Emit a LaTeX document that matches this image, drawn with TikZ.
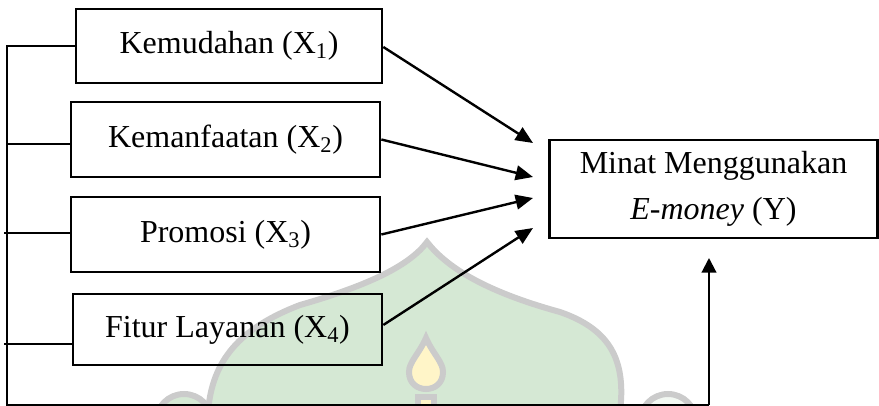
\documentclass[tikz,border=0pt]{standalone}
\usepackage{fontspec}
\setmainfont{Liberation Serif}
\usetikzlibrary{arrows.meta}
\definecolor{wmgreen}{HTML}{D5E8D4}
\definecolor{wmgrey}{HTML}{CBCBCB}
\definecolor{wmyellow}{HTML}{FFF5C8}
\tikzset{
  varbox/.style={draw, line width=2pt, inner sep=0pt, align=center,
    font=\fontsize{24}{34.5}\selectfont},
  link/.style={line width=1.1pt},
  infl/.style={line width=1.8pt, -{Triangle[length=13pt,width=11pt]}},
  wmark/.style={fill=wmgreen, draw=wmgrey, line width=4.5pt},
}
\begin{document}
\begin{tikzpicture}[x=0.75pt,y=-0.75pt]
\useasboundingbox (0,0) rectangle (879,406);

% faint background emblem
\begin{scope}
  \clip (0,0) rectangle (879,406);
  \path[wmark] (208,412) .. controls (212,360) and (240,328) .. (300,305)
    .. controls (370,285) and (410,265) .. (427,242)
    .. controls (445,265) and (480,290) .. (560,312)
    .. controls (612,330) and (626,362) .. (620,412) -- cycle;
  \path[wmark] (184,422) circle (28);
  \path[wmark, fill=white!70!wmgreen] (668,422) circle (28);
  \path[wmark, fill=wmyellow] (426,338) .. controls (433,354) and (443,362) .. (443,372)
    .. controls (443,383) and (435,389) .. (426,389)
    .. controls (417,389) and (409,383) .. (409,372)
    .. controls (409,362) and (419,354) .. (426,338) -- cycle;
  \path[wmark, fill=wmyellow] (418,397) rectangle (434,414);
\end{scope}

% variables
\node[varbox, minimum width=229.5pt, minimum height=55.5pt] (b1) at (229,46)
  {Kemudahan (X\textsubscript{1})};
\node[varbox, minimum width=231.75pt, minimum height=56.25pt] (b2) at (225.5,139.5)
  {Kemanfaatan (X\textsubscript{2})};
\node[varbox, minimum width=231.75pt, minimum height=56.25pt] (b3) at (225.5,234.5)
  {Promosi (X\textsubscript{3})};
\node[varbox, minimum width=231.75pt, minimum height=53.25pt] (b4) at (227.5,329.5)
  {Fitur Layanan (X\textsubscript{4})};
\node[varbox, minimum width=246pt, minimum height=73.5pt] (by) at (713.5,189)
  {Minat Menggunakan\\\textit{E-money} (Y)};

% partial influences
\coordinate (p1) at (533,143);
\coordinate (p2) at (533,177);
\coordinate (p3) at (533,198);
\coordinate (p4) at (533,228);
\draw[infl] ([yshift=-0.75pt]b1.east) -- (p1);
\draw[infl] (b2.east) -- (p2);
\draw[infl] (b3.east) -- (p3);
\draw[infl] ([yshift=3.4pt]b4.east) -- (p4);

% simultaneous influence bracket
\coordinate (spine) at (7,46);
\coordinate (corner) at (7,405);
\coordinate (lx) at (4,0);
\coordinate (turn) at (709,405);
\coordinate (yin) at (709,258);
\coordinate (t2) at ([yshift=-3.4pt]b2.west);
\coordinate (t3) at ([yshift=1pt]b3.west);
\coordinate (t4) at ([yshift=-10.9pt]b4.west);
\draw[link] (b1.west) -- (spine) -- (corner) -- (turn);
\draw[link] (t2) -- (t2 -| spine);
\draw[link] (t3) -- (t3 -| lx);
\draw[link] (t4) -- (t4 -| lx);
\draw[line width=1.6pt, -{Triangle[length=11pt,width=11pt]}] (turn) -- (yin);
\end{tikzpicture}
\end{document}
